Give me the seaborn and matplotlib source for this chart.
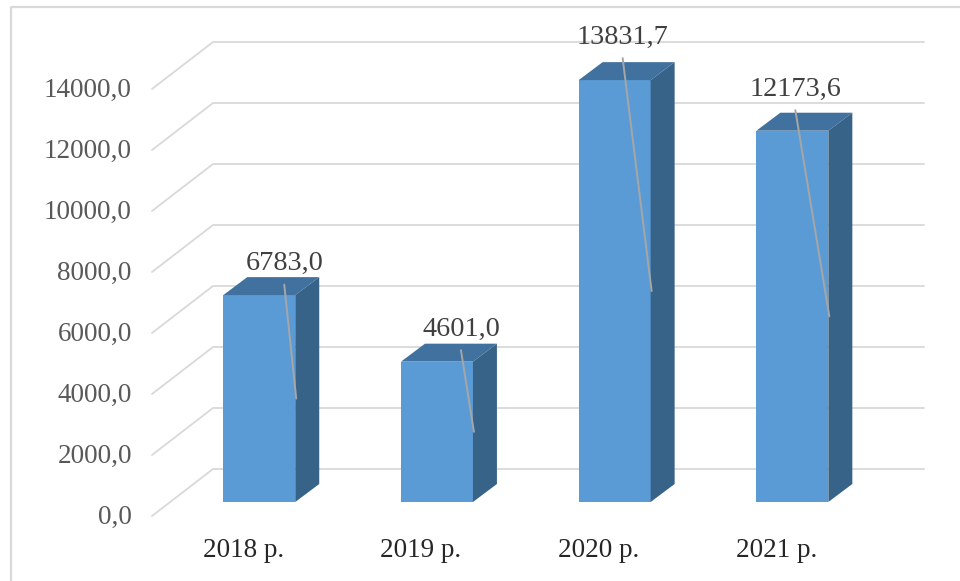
import matplotlib
matplotlib.use("Agg")
import matplotlib.pyplot as plt
import matplotlib.transforms as mtrans
from matplotlib.lines import Line2D
from matplotlib.patches import Polygon
import seaborn as sns

years = ["2018 р.", "2019 р.", "2020 р.", "2021 р."]
values = [6783.0, 4601.0, 13831.7, 12173.6]
y_ticks = [0, 2000, 4000, 6000, 8000, 10000, 12000, 14000]

sns.set_theme(style="white")
plt.rcParams["font.family"] = ["Liberation Serif", "DejaVu Serif"]

W, H = 960, 581
FRONT, TOP, SIDE = "#5b9bd5", "#41729f", "#386389"
GRID = "#d9d9d9"
pixels = mtrans.IdentityTransform()

fig = plt.figure(figsize=(W / 100, H / 100), dpi=100)
# axes box: 0 of the bars sits at y=502 px, 14000 at y=75 px
ax = fig.add_axes([152 / W, 1 - 502 / H, (924 - 152) / W, 427 / H])
sns.barplot(x=years, y=values, color=FRONT, saturation=1, width=0.405, linewidth=0,
            ax=ax, zorder=3)

step = 177.7  # px between categories
ax.set_xlim((152 - 259.25) / step, (924 - 259.25) / step)
ax.set_ylim(0, 14000)
sns.despine(ax=ax, left=True, bottom=True, top=True, right=True)

# wall and floor lines of the fake 3d box
for t in y_ticks:
    (gx0, gy), (gx1, _) = ax.transData.transform([(ax.get_xlim()[0], t), (ax.get_xlim()[1], t)])
    ax.plot([gx0, gx0 + 61, gx1], [gy - 14, gy + 33, gy + 33], color=GRID, lw=1.3,
            transform=pixels, clip_on=False, zorder=1, solid_joinstyle="miter")

# ticks
ax.set_yticks(y_ticks, [f"{t:.1f}".replace(".", ",") for t in y_ticks])
ax.tick_params(axis="y", length=0, pad=14.5, labelsize=19.5, labelcolor="#595959")
ax.tick_params(axis="x", length=0, pad=26, labelsize=19.5, labelcolor="#262626")
for lab in ax.get_yticklabels():
    lab.set_transform(lab.get_transform() + mtrans.Affine2D().translate(0, -12))
for lab in ax.get_xticklabels():
    lab.set_transform(lab.get_transform() + mtrans.Affine2D().translate(-16, 0))

# depth faces of each bar
depth_x, depth_y = 24, 18
label_dx = [25, 24, 8, 3]
label_dy = [31.5, 32.5, 43, 41.5]
for bar, v, ldx, ldy in zip(ax.patches, values, label_dx, label_dy):
    x0, x1 = bar.get_x(), bar.get_x() + bar.get_width()
    (px0, py0), (px1, py1) = ax.transData.transform([(x0, 0), (x1, v)])
    ax.add_patch(Polygon([(px0, py1), (px0 + depth_x, py1 + depth_y),
                          (px1 + depth_x, py1 + depth_y), (px1, py1)],
                         transform=pixels, fc=TOP, ec="none", clip_on=False, zorder=3))
    ax.add_patch(Polygon([(px1, py0), (px1 + depth_x, py0 + depth_y),
                          (px1 + depth_x, py1 + depth_y), (px1, py1)],
                         transform=pixels, fc=SIDE, ec="none", clip_on=False, zorder=3))

    # value label with its grey leader down to the middle of the bar
    lx, ly = (px0 + px1) / 2 + ldx, py1 + ldy
    ax.text(lx, ly, f"{v:.1f}".replace(".", ","), transform=pixels,
            ha="center", va="center", fontsize=20.3, color="#404040", zorder=6)
    mid = ax.transData.transform((x1, v / 2))
    ax.plot([lx, mid[0] + 1], [ly - 21, mid[1]], color="#a6a6a6", lw=1.4,
            transform=pixels, clip_on=False, zorder=5)

# light frame round the pasted picture
fig.add_artist(Line2D([1, 10.5 / W, 10.5 / W], [1 - 6.5 / H, 1 - 6.5 / H, 0],
                      color=GRID, lw=1.6))

fig.savefig("out.png", dpi=100)
